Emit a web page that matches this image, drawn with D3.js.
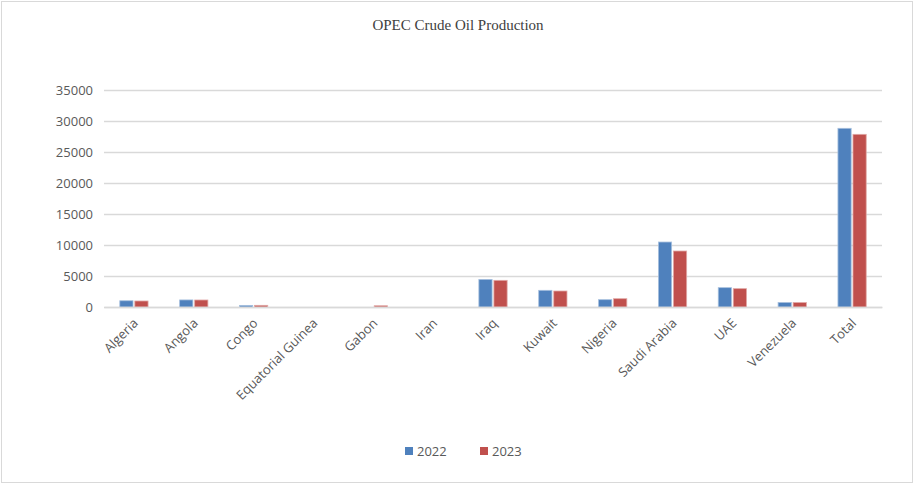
<!DOCTYPE html>
<html><head><meta charset="utf-8">
<script src="https://cdn.jsdelivr.net/npm/d3@7"></script>
<style>body{margin:0;background:#fff;}svg{display:block;}</style>
</head><body><svg id="c" width="915" height="485"></svg>
<script>
const categories = ["Algeria","Angola","Congo","Equatorial Guinea","Gabon","Iran","Iraq","Kuwait","Nigeria","Saudi Arabia","UAE","Venezuela","Total"];
const seriesNames = ["2022","2023"];
const values2022 = [1010,1140,260,0,0,0,4450,2690,1180,10480,3120,730,28820];
const values2023 = [970,1130,270,0,200,0,4300,2580,1340,9030,2960,720,27850];
const yTicks = [0,5000,10000,15000,20000,25000,30000,35000];
const colors = ["#4F81BD","#C0504D"];
const edge = ["#A7C0DE","#E0A8A6"];

const svg = d3.select("#c");
svg.append("rect").attr("x",1.5).attr("y",1.5).attr("width",911).attr("height",481)
  .attr("fill","#fff").attr("stroke","#d9d9d9").attr("stroke-width",1);

const m = {l:104, r:882, t:90, b:307};
const x = d3.scaleBand().domain(categories).range([m.l,m.r]).paddingInner(0).paddingOuter(0);
const x1 = d3.scaleBand().domain(seriesNames).range([0,x.bandwidth()]).paddingInner(0.12).paddingOuter(1.05);
const y = d3.scaleLinear().domain([0,35000]).range([m.b,m.t]);

svg.append("text").attr("x",458).attr("y",30).attr("text-anchor","middle")
  .attr("font-family","Liberation Serif, serif").attr("font-size",15).attr("fill","#404040")
  .text("OPEC Crude Oil Production");

const yAxis = d3.axisLeft(y).tickValues(yTicks).tickSize(-(m.r-m.l)).tickPadding(11).tickFormat(d3.format("d"));
const ga = svg.append("g").attr("transform",`translate(${m.l},0)`).call(yAxis);
ga.select(".domain").remove();
ga.selectAll(".tick line").attr("stroke","#d9d9d9").attr("stroke-width",1.3);
ga.selectAll(".tick text").attr("font-family","Open Sans, sans-serif").attr("font-size",13).attr("fill","#595959");

const data = categories.map((c,i)=>({c, v:[values2022[i],values2023[i]]}));
const g = svg.append("g");
data.forEach(d=>{
  d.v.forEach((v,j)=>{
    if(v<=0) return;
    g.append("rect").attr("x",x(d.c)+x1(seriesNames[j])).attr("y",y(v))
      .attr("width",x1.bandwidth()).attr("height",y(0)-y(v))
      .attr("fill",colors[j]).attr("stroke",edge[j]).attr("stroke-width",0.8);
  });
});

const xAxis = d3.axisBottom(x).tickSize(0).tickPadding(0);
const gx = svg.append("g").attr("transform",`translate(0,${m.b})`).call(xAxis);
gx.select(".domain").attr("stroke","#d9d9d9").attr("stroke-width",1.3);
gx.selectAll(".tick text").attr("font-family","Open Sans, sans-serif").attr("font-size",13).attr("fill","#595959")
  .attr("text-anchor","end").attr("dy",0).attr("y",0)
  .attr("transform","translate(5,17) rotate(-45)");

const lg = svg.append("g").attr("transform","translate(405,451)");
seriesNames.forEach((s,i)=>{
  const gg = lg.append("g").attr("transform",`translate(${i*75},0)`);
  gg.append("rect").attr("x",0).attr("y",-4).attr("width",8).attr("height",8).attr("fill",colors[i]);
  gg.append("text").attr("x",12).attr("y",5).attr("font-family","Open Sans, sans-serif").attr("font-size",13).attr("fill","#595959").text(s);
});
</script></body></html>
